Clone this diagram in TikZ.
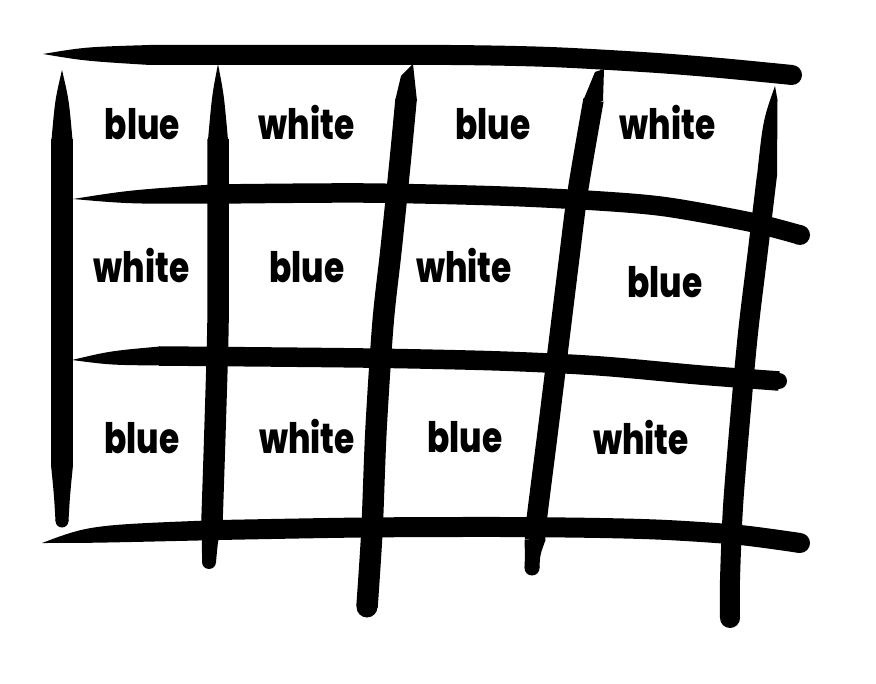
\documentclass[tikz,border=0pt]{standalone}
\usepackage{fontspec}
\newfontfamily\cellfont{Poppins ExtraBold}
\begin{document}
\begin{tikzpicture}[x=1pt,y=-1pt,
  inkline/.style={line width=#1, line cap=butt, line join=round, black},
  inkline/.default=20,
  cell/.style={anchor=base, inner sep=0pt, xscale=0.78, transform shape,
    font=\cellfont\fontsize{42}{48}\selectfont}]
\fill[white] (0,0) rectangle (876,684);
\useasboundingbox (0,0) rectangle (876,684);

% ---------- horizontal strokes ----------
% H1
\fill (43,54) .. controls (85,47) .. (150,45) -- (150,65) .. controls (85,61) .. (43,54) -- cycle;
\draw[inkline=20] plot[smooth] coordinates {(149,55) (300,55) (450,55) (550,57) (650,62.5) (720,68) (792,75)};
\fill (792,75) circle (10);
% H2
\fill (73,199) .. controls (130,190) .. (220,184) -- (220,203.5) .. controls (130,204) .. (73,199) -- cycle;
\draw[inkline=19.5] plot[smooth] coordinates {(219,194) (363,193) (500,196) (600,201) (667,207) (750,222) (800,235)};
\fill (800,235) circle (10);
% H3
\fill (72,360) .. controls (110,351) .. (160,346.5) -- (160,365.5) .. controls (110,365) .. (72,360) -- cycle;
\draw[inkline=19.5] plot[smooth] coordinates {(159,356) (363,358) (500,361) (600,366) (700,375) (779,381)};
\fill (779,381) circle (8);
% H4
\fill (42,543) .. controls (90,525) .. (220,520) -- (220,540) .. controls (90,543) .. (42,543) -- cycle;
\draw[inkline=20] plot[smooth] coordinates {(219,530) (363,527.5) (500,527) (600,528) (667,530) (740,535) (800,543)};
\fill (800,543) circle (10);

% ---------- vertical strokes ----------
% V1
\fill (62,70) .. controls (55,100) .. (51.5,140) -- (72.5,140) .. controls (69,100) .. (62,70) -- cycle;
\draw[inkline=22] (62,139) -- (62,466);
\fill (51,465) -- (73,465) .. controls (70,495) .. (68.5,521) -- (55.5,521) .. controls (54,495) .. (51,465) -- cycle;
\fill (62,521) circle (6.5);
% V2
\fill (218,64) .. controls (212,95) .. (208,140) -- (228,140) .. controls (224,95) .. (218,64) -- cycle;
\draw[inkline=21.5] plot[smooth] coordinates {(218,139) (218,230) (218,323) (215,430) (212,521)};
\fill (201.5,520) -- (222.5,520) .. controls (218,540) .. (216,562) -- (202,562) .. controls (202,540) .. (201.5,520) -- cycle;
\fill (209,562) circle (7);
% V3
\fill (395,101) -- (401,76) -- (413,64) -- (417,101) -- cycle;
\draw[inkline=21.5] plot[smooth] coordinates {(406,100) (400,163) (391,250) (383,323) (376,430) (372,530) (367,607)};
\fill (367,607) circle (10.5);
% V4
\fill (583,101) -- (595,72) -- (604,69) -- (603,101) -- cycle;
\draw[inkline=20.5] plot[smooth] coordinates {(593.5,100) (578,190) (569,260) (560,333) (548,430) (537,517) (535,540)};
\fill (524.5,540) -- (545.5,540) .. controls (540,555) .. (539.5,568) -- (524.5,568) .. controls (525,555) .. (524.5,540) -- cycle;
\fill (532,568) circle (7.5);
% V5
\fill (775,86) -- (777.5,100) -- (777,176) -- (757,176) .. controls (763,120) .. (775,86) -- cycle;
\draw[inkline=20] plot[smooth] coordinates {(767,175) (758,250) (748,333) (740,420) (733,507) (730,580) (730,618)};
\fill (730,618) circle (10);

% ---------- cell labels ----------
\node[cell] (r1c1) at (142.5,140) {blue};
\node[cell] (r1c2) at (306.5,140) {white};
\node[cell] (r1c3) at (493,140) {blue};
\node[cell] (r1c4) at (667.5,140) {white};
\node[cell] (r2c1) at (141.5,283) {white};
\node[cell] (r2c2) at (307,283) {blue};
\node[cell] (r2c3) at (464,283) {white};
\node[cell] (r2c4) at (665,298) {blue};
\node[cell] (r3c1) at (142,454) {blue};
\node[cell] (r3c2) at (307,454) {white};
\node[cell] (r3c3) at (465,453) {blue};
\node[cell] (r3c4) at (641,455) {white};
\end{tikzpicture}
\end{document}
